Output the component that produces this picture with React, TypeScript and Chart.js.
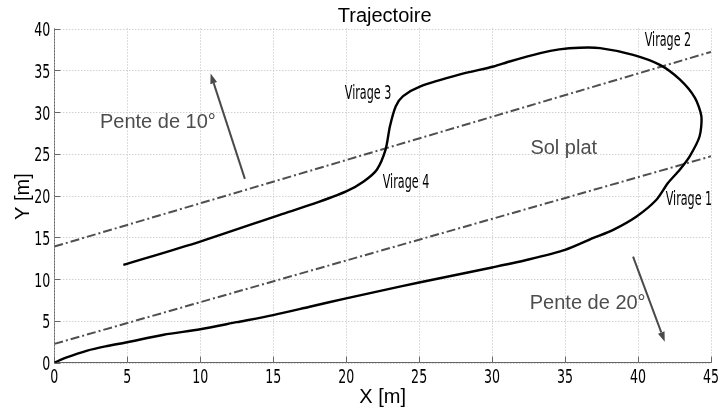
import React, { useEffect, useRef } from "react";
import { Chart, registerables } from "chart.js";

Chart.register(...registerables);

// ---- data (metres) ----
const trajX = [0, 0.8, 2.26, 3.5, 5, 7.5, 10, 12.5, 15, 17.5, 20, 22.5, 25, 27.5, 30, 32.5, 35, 36.9, 38.3, 39.9, 41.26, 42.05, 42.86, 43.54, 44.22, 44.34, 43.9, 42.86, 41.5, 39.66, 37.4, 36, 34.6, 33.3, 31.2, 30.1, 27.8, 25.05, 23.9, 23.4, 23.0, 22.7, 22.1, 21.2, 20.0, 17.74, 15.46, 10, 4.73];
const trajY = [0, 0.6, 1.45, 1.95, 2.45, 3.35, 4.0, 4.85, 5.7, 6.7, 7.7, 8.65, 9.6, 10.5, 11.4, 12.35, 13.5, 14.9, 15.9, 17.5, 19.5, 21.5, 23.1, 24.7, 27.1, 29.5, 31.7, 33.9, 35.65, 36.85, 37.65, 37.7, 37.5, 37.05, 36.05, 35.45, 34.5, 33.05, 31.9, 30.7, 28.3, 25.5, 23.1, 21.7, 20.5, 19.0, 17.7, 14.5, 11.7];

const border10X = [0, 45];
const border10Y = [13.9, 37.2];
const border20X = [0, 45];
const border20Y = [2.25, 24.7];

const xTicks = [0, 5, 10, 15, 20, 25, 30, 35, 40, 45];
const yTicks = [0, 5, 10, 15, 20, 25, 30, 35, 40];
const xTickLabels = ["0", "5", "10", "15", "20", "25", "30", "35", "40", "45"];
const yTickLabels = ["0", "5", "10", "15", "20", "25", "30", "35", "40"];

const arrowFromX = [13.06, 39.66];
const arrowFromY = [22.0, 12.7];
const arrowToX = [10.71, 41.83];
const arrowToY = [34.6, 2.5];

const noteTexts = ["Pente de 10°", "Sol plat", "Pente de 20°"];
const noteX = [7.1, 34.91, 36.55];
const noteY = [28.07, 25.0, 6.43];

const virageTexts = ["Virage 1", "Virage 2", "Virage 3", "Virage 4"];
const virageX = [43.49, 42.05, 21.5, 24.1];
const virageY = [18.89, 37.93, 31.55, 20.89];

const TITLE = "Trajectoire";
const X_TITLE = "X [m]";
const Y_TITLE = "Y [m]";

const NARROW = "'Liberation Sans Narrow', 'DejaVu Sans Condensed', 'Roboto Condensed', sans-serif";
const SANS = "'Liberation Sans', Arial, sans-serif";

const toPts = (xs: number[], ys: number[]) => xs.map((x, i) => ({ x, y: ys[i] }));

const drawNarrow = (ctx: any, t: string, x: number, y: number, k: number) => {
  ctx.save();
  ctx.translate(x, y);
  ctx.scale(k, 1);
  ctx.fillText(t, 0, 0);
  ctx.restore();
};

const decorPlugin = {
  id: "decor",
  beforeDatasetsDraw(chart: any) {
    const { ctx, chartArea: a, scales } = chart;
    const sx = scales.x;
    const sy = scales.y;
    ctx.save();
    ctx.strokeStyle = "#bdbdbd";
    ctx.lineWidth = 1;
    ctx.setLineDash([1, 2]);
    xTicks.forEach((v) => {
      const p = Math.round(sx.getPixelForValue(v)) + 0.5;
      ctx.beginPath();
      ctx.moveTo(p, a.top);
      ctx.lineTo(p, a.bottom);
      ctx.stroke();
    });
    yTicks.forEach((v) => {
      const p = Math.round(sy.getPixelForValue(v)) + 0.5;
      ctx.beginPath();
      ctx.moveTo(a.left, p);
      ctx.lineTo(a.right, p);
      ctx.stroke();
    });
    ctx.setLineDash([]);
    ctx.strokeStyle = "#666";
    xTicks.forEach((v) => {
      const p = Math.round(sx.getPixelForValue(v)) + 0.5;
      ctx.beginPath();
      ctx.moveTo(p, a.bottom);
      ctx.lineTo(p, a.bottom - 6);
      ctx.stroke();
    });
    yTicks.forEach((v) => {
      const p = Math.round(sy.getPixelForValue(v)) + 0.5;
      ctx.beginPath();
      ctx.moveTo(a.left, p);
      ctx.lineTo(a.left + 6, p);
      ctx.stroke();
    });
    // tick labels (condensed)
    ctx.fillStyle = "#000";
    ctx.font = `20px ${NARROW}`;
    ctx.textBaseline = "alphabetic";
    const kT = 0.7;
    ctx.textAlign = "center";
    xTicks.forEach((v, i) => {
      drawNarrow(ctx, xTickLabels[i], sx.getPixelForValue(v), a.bottom + 20.5, kT);
    });
    ctx.textAlign = "right";
    yTicks.forEach((v, i) => {
      drawNarrow(ctx, yTickLabels[i], a.left - 4, sy.getPixelForValue(v) + 7.5, kT);
    });
    ctx.restore();
  },
  afterDatasetsDraw(chart: any) {
    const { ctx, chartArea: a, scales } = chart;
    const sx = scales.x;
    const sy = scales.y;
    ctx.save();
    // arrows
    ctx.strokeStyle = "#4a4a4a";
    ctx.fillStyle = "#4a4a4a";
    ctx.lineWidth = 2;
    arrowFromX.forEach((fx, i) => {
      const x1 = sx.getPixelForValue(fx);
      const y1 = sy.getPixelForValue(arrowFromY[i]);
      const x2 = sx.getPixelForValue(arrowToX[i]);
      const y2 = sy.getPixelForValue(arrowToY[i]);
      const ang = Math.atan2(y2 - y1, x2 - x1);
      const hl = 10;
      const hw = 3.5;
      const bx = x2 - hl * Math.cos(ang);
      const by = y2 - hl * Math.sin(ang);
      ctx.beginPath();
      ctx.moveTo(x1, y1);
      ctx.lineTo(bx, by);
      ctx.stroke();
      ctx.beginPath();
      ctx.moveTo(x2, y2);
      ctx.lineTo(bx + hw * Math.sin(ang), by - hw * Math.cos(ang));
      ctx.lineTo(bx - hw * Math.sin(ang), by + hw * Math.cos(ang));
      ctx.closePath();
      ctx.fill();
    });
    // notes
    ctx.fillStyle = "#4d4d4d";
    ctx.font = `20px ${SANS}`;
    ctx.textAlign = "center";
    ctx.textBaseline = "alphabetic";
    noteTexts.forEach((t, i) => {
      ctx.fillText(t, sx.getPixelForValue(noteX[i]), sy.getPixelForValue(noteY[i]));
    });
    // virage labels (condensed)
    ctx.fillStyle = "#000";
    ctx.font = `20px ${NARROW}`;
    virageTexts.forEach((t, i) => {
      const w = ctx.measureText(t).width;
      const k = w > 0 ? 46.5 / w : 1;
      drawNarrow(ctx, t, sx.getPixelForValue(virageX[i]), sy.getPixelForValue(virageY[i]), k);
    });
    // titles
    const cx = (a.left + a.right) / 2;
    const cy = (a.top + a.bottom) / 2;
    ctx.fillStyle = "#000";
    ctx.font = `20px ${SANS}`;
    ctx.fillText(TITLE, cx + 2, 21.7);
    ctx.fillText(X_TITLE, cx, 403.3);
    ctx.save();
    ctx.translate(29.3, cy + 1);
    ctx.rotate(-Math.PI / 2);
    ctx.fillText(Y_TITLE, 0, 0);
    ctx.restore();
    ctx.restore();
  },
};

export default function App() {
  const ref = useRef<HTMLCanvasElement | null>(null);
  useEffect(() => {
    if (!ref.current) return;
    const chart = new Chart(ref.current, {
      type: "scatter",
      data: {
        datasets: [
          {
            label: "Trajectoire",
            data: toPts(trajX, trajY),
            showLine: true,
            borderColor: "#000",
            borderWidth: 2.4,
            pointRadius: 0,
            tension: 0.25,
            fill: false,
          },
          {
            label: "Limite pente 10°",
            data: toPts(border10X, border10Y),
            showLine: true,
            borderColor: "#4f4f4f",
            borderWidth: 2,
            borderDash: [9, 3, 2, 3],
            pointRadius: 0,
            fill: false,
          },
          {
            label: "Limite pente 20°",
            data: toPts(border20X, border20Y),
            showLine: true,
            borderColor: "#4f4f4f",
            borderWidth: 2,
            borderDash: [9, 3, 2, 3],
            pointRadius: 0,
            fill: false,
          },
        ],
      },
      options: {
        animation: false,
        responsive: false,
        maintainAspectRatio: false,
        layout: { padding: { top: 28.5, right: 8, left: 0, bottom: 0 } },
        plugins: {
          legend: { display: false },
          tooltip: { enabled: false },
          title: { display: false },
        },
        scales: {
          x: {
            type: "linear",
            min: 0,
            max: 45,
            afterBuildTicks: (s: any) => {
              s.ticks = xTicks.map((v) => ({ value: v }));
            },
            afterFit: (s: any) => {
              s.height = 49.3;
            },
            grid: { display: false, drawTicks: false },
            border: { display: true, color: "#666", width: 1 },
            ticks: { display: false },
          },
          y: {
            type: "linear",
            min: 0,
            max: 40,
            afterBuildTicks: (s: any) => {
              s.ticks = yTicks.map((v) => ({ value: v }));
            },
            afterFit: (s: any) => {
              s.width = 54.3;
            },
            grid: { display: false, drawTicks: false },
            border: { display: true, color: "#666", width: 1 },
            ticks: { display: false },
          },
        },
      },
      plugins: [decorPlugin],
    } as any);
    return () => chart.destroy();
  }, []);
  return (
    <div style={{ position: "fixed", left: 0, top: 0, width: 719, height: 412, background: "#fff" }}>
      <canvas ref={ref} width={719} height={412} style={{ display: "block", width: 719, height: 412 }} />
    </div>
  );
}
